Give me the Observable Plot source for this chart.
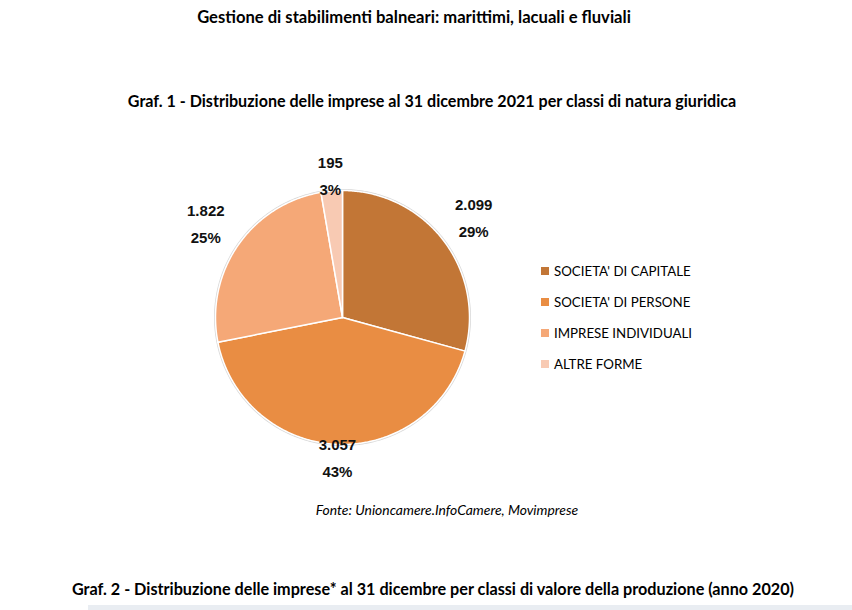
<!DOCTYPE html>
<html>
<head>
<meta charset="utf-8">
<script src="https://cdn.jsdelivr.net/npm/d3@7"></script>
<script src="https://cdn.jsdelivr.net/npm/@observablehq/plot@0.6"></script>
<style>
  html, body { margin: 0; padding: 0; background: #fff; }
  #page { position: relative; width: 852px; height: 610px; overflow: hidden; font-family: Lato, "Open Sans", sans-serif; color: #000; }
  .t { position: absolute; white-space: nowrap; transform: translateX(-50%); line-height: 1; }
  #title { left: 414px; top: 9px; font-size: 16.6px; font-weight: bold; }
  #sub { left: 432px; top: 93px; font-size: 16.1px; font-weight: bold; }
  #caption { left: 447px; top: 503px; font-size: 13.9px; font-style: italic; }
  #graf2 { left: 433px; top: 581px; font-size: 16.2px; font-weight: bold; }
  #chart { position: absolute; left: 0; top: 145px; }
  #legend { position: absolute; left: 541px; top: 255px; font-size: 13.3px; }
  .row { display: flex; align-items: center; height: 31px; }
  .sw { width: 8px; height: 8px; margin-right: 5px; }
  #strip { position: absolute; left: 88px; top: 605px; width: 764px; height: 5px; background: #e9edf2; }
</style>
</head>
<body>
<div id="page">
  <div class="t" id="title">Gestione di stabilimenti balneari: marittimi, lacuali e fluviali</div>
  <div class="t" id="sub">Graf. 1 - Distribuzione delle imprese al 31 dicembre 2021 per classi di natura giuridica</div>
  <div id="chart"></div>
  <div id="legend"></div>
  <div class="t" id="caption">Fonte: Unioncamere.InfoCamere, Movimprese</div>
  <div class="t" id="graf2">Graf. 2 - Distribuzione delle imprese* al 31 dicembre per classi di valore della produzione (anno 2020)</div>
  <div id="strip"></div>
</div>
<script>
const categories = ["SOCIETA' DI CAPITALE", "SOCIETA' DI PERSONE", "IMPRESE INDIVIDUALI", "ALTRE FORME"];
const values = [2099, 3057, 1822, 195];
const colors = ["#c27636", "#e98d43", "#f5a877", "#f8cab3"];

const it = d3.formatLocale({decimal: ",", thousands: ".", grouping: [3], currency: ["€", ""]});
const fmt = it.format(",d");
const total = d3.sum(values);

// slice angles (clockwise from top)
const slices = [];
let acc = 0;
categories.forEach((c, i) => {
  const a0 = acc / total * 2 * Math.PI;
  acc += values[i];
  const a1 = acc / total * 2 * Math.PI;
  slices.push({key: c, value: values[i], a0, a1, color: colors[i]});
});

// polygon outline of each slice in unit-radius coordinates
const poly = [];
for (const s of slices) {
  poly.push({key: s.key, x: 0, y: 0});
  const n = Math.max(4, Math.ceil((s.a1 - s.a0) / 0.01));
  for (let k = 0; k <= n; k++) {
    const a = s.a0 + (s.a1 - s.a0) * k / n;
    poly.push({key: s.key, x: Math.sin(a), y: Math.cos(a)});
  }
  poly.push({key: s.key, x: 0, y: 0});
}
const rim = d3.range(0, 361).map(d => ({x: Math.sin(d * Math.PI / 180), y: Math.cos(d * Math.PI / 180)}));

const labels = slices.map(s => {
  const m = (s.a0 + s.a1) / 2;
  const r = 1.1 + 0.25 * Math.abs(Math.sin(m));
  return {x: r * Math.sin(m), y: r * Math.cos(m), text: fmt(s.value) + "\n" + Math.round(s.value / total * 100) + "%"};
});

const R = 127, cx = 342, cy = 172;
const chart = Plot.plot({
  width: 852,
  height: 345,
  margin: 0,
  x: {domain: [-1, 1], range: [cx - R, cx + R], axis: null},
  y: {domain: [-1, 1], range: [cy + R, cy - R], axis: null},
  color: {domain: categories, range: colors},
  marks: [
    Plot.line(rim, {x: "x", y: "y", stroke: "#d8d8d8", strokeWidth: 3, curve: "linear"}),
    Plot.line(poly, {x: "x", y: "y", z: "key", fill: "key", stroke: "#ffffff", strokeWidth: 1.5, strokeLinejoin: "round", curve: "linear"}),
    Plot.text(labels, {x: "x", y: "y", dy: -3, text: "text", fontSize: 15, fontWeight: "bold", fontFamily: "Liberation Sans, Arial, sans-serif", fill: "#111", lineHeight: 1.8})
  ]
});
document.getElementById("chart").appendChild(chart);

const leg = document.getElementById("legend");
categories.forEach((c, i) => {
  const row = document.createElement("div");
  row.className = "row";
  const sw = document.createElement("div");
  sw.className = "sw";
  sw.style.background = colors[i];
  const lab = document.createElement("span");
  lab.textContent = c;
  row.appendChild(sw);
  row.appendChild(lab);
  leg.appendChild(row);
});
</script>
</body>
</html>
